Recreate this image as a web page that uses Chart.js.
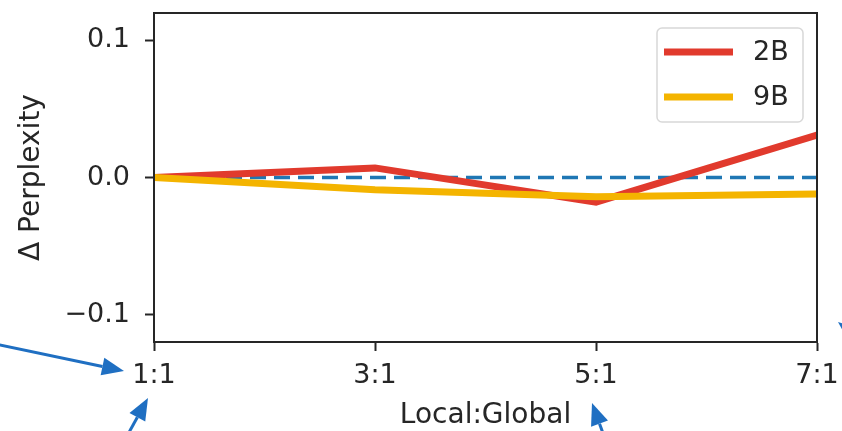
<!DOCTYPE html>
<html lang="en">
<head>
    <meta charset="UTF-8">
    <title>Delta Perplexity vs Local:Global</title>
    <style>
        body { margin: 0; padding: 0; background: #fff; }
        #wrap { width: 842px; height: 431px; position: relative; }
    </style>
</head>
<body>
    <div id="wrap"><canvas id="chart"></canvas></div>

    <script src="https://cdn.jsdelivr.net/npm/chart.js"></script>
    <script>
        // data
        const ratios = [1, 3, 5, 7];
        const ratioLabels = {1: '1:1', 3: '3:1', 5: '5:1', 7: '7:1'};
        const values2B = [0, 0.007, -0.018, 0.031];
        const values9B = [0, -0.009, -0.014, -0.012];
        const baseline = [0, 0, 0, 0];
        const yTicks = [-0.1, 0.0, 0.1];

        const FONT = 'DejaVu Sans';
        const INK = '#262626';

        const toPoints = vals => ratios.map((r, i) => ({ x: r, y: vals[i] }));

        // frame around plot area + legend + slide arrows
        const extras = {
            id: 'extras',
            afterDatasetsDraw(chart) {
                const ctx = chart.ctx;
                const a = chart.chartArea;
                ctx.save();
                ctx.strokeStyle = INK;
                ctx.lineWidth = 2;
                ctx.strokeRect(a.left, a.top, a.right - a.left, a.bottom - a.top);
                ctx.restore();
            },
            afterDraw(chart) {
                const ctx = chart.ctx;
                ctx.save();
                // legend
                const lx = 657, ly = 28, lw = 146, lh = 94;
                ctx.fillStyle = 'rgba(255,255,255,0.85)';
                ctx.strokeStyle = '#d8d8d8';
                ctx.lineWidth = 1.5;
                ctx.beginPath();
                ctx.roundRect(lx, ly, lw, lh, 5);
                ctx.fill();
                ctx.stroke();
                const items = chart.data.datasets.filter(d => d.label);
                items.forEach((d, i) => {
                    const y = 52 + i * 45;
                    ctx.strokeStyle = d.borderColor;
                    ctx.lineWidth = 7;
                    ctx.lineCap = 'butt';
                    ctx.beginPath();
                    ctx.moveTo(664, y);
                    ctx.lineTo(733, y);
                    ctx.stroke();
                    ctx.fillStyle = INK;
                    ctx.font = '27px "' + FONT + '"';
                    ctx.textBaseline = 'middle';
                    ctx.fillText(d.label, 753, y + 1);
                });

                // blue arrows from the slide
                const arrow = (x0, y0, x1, y1) => {
                    const ang = Math.atan2(y1 - y0, x1 - x0);
                    const len = 22, wid = 9;
                    const bx = x1 - len * Math.cos(ang), by = y1 - len * Math.sin(ang);
                    ctx.strokeStyle = '#1f6fc2';
                    ctx.fillStyle = '#1f6fc2';
                    ctx.lineWidth = 3;
                    ctx.beginPath();
                    ctx.moveTo(x0, y0);
                    ctx.lineTo(bx, by);
                    ctx.stroke();
                    ctx.beginPath();
                    ctx.moveTo(x1, y1);
                    ctx.lineTo(bx + wid * Math.sin(ang), by - wid * Math.cos(ang));
                    ctx.lineTo(bx - wid * Math.sin(ang), by + wid * Math.cos(ang));
                    ctx.closePath();
                    ctx.fill();
                };
                arrow(-5, 344, 124, 371);
                arrow(127, 436, 148, 398);
                arrow(604, 436, 592, 403);
                arrow(870, 348, 838, 322);
                ctx.restore();
            }
        };

        new Chart(document.getElementById('chart'), {
            type: 'line',
            data: {
                datasets: [
                    {
                        label: '2B',
                        data: toPoints(values2B),
                        borderColor: '#e13a2d',
                        borderWidth: 7,
                        pointRadius: 0,
                        tension: 0,
                        order: 2
                    },
                    {
                        label: '9B',
                        data: toPoints(values9B),
                        borderColor: '#f4b400',
                        borderWidth: 7,
                        pointRadius: 0,
                        tension: 0,
                        order: 1
                    },
                    {
                        label: '',
                        data: toPoints(baseline),
                        borderColor: '#1f77b4',
                        borderWidth: 3.5,
                        borderDash: [16, 8],
                        pointRadius: 0,
                        order: 3
                    }
                ]
            },
            options: {
                responsive: true,
                maintainAspectRatio: false,
                animation: false,
                layout: { padding: { top: 13, right: 25, left: 0, bottom: 0 } },
                plugins: { legend: { display: false }, tooltip: { enabled: false } },
                scales: {
                    x: {
                        type: 'linear',
                        min: 1,
                        max: 7,
                        afterBuildTicks: s => { s.ticks = ratios.map(v => ({ value: v })); },
                        afterFit: s => { s.height = 89; s.paddingLeft = 0; s.paddingRight = 0; },
                        ticks: {
                            callback: v => ratioLabels[v],
                            color: INK,
                            font: { family: FONT, size: 27 },
                            padding: 9,
                            maxRotation: 0
                        },
                        grid: { drawOnChartArea: false, tickLength: 9, tickColor: INK, tickWidth: 2 },
                        border: { color: INK, width: 2 },
                        title: {
                            display: true,
                            text: 'Local:Global',
                            color: INK,
                            font: { family: FONT, size: 28 },
                            padding: { top: 0, bottom: -2 }
                        }
                    },
                    y: {
                        min: -0.12,
                        max: 0.12,
                        afterBuildTicks: s => { s.ticks = yTicks.map(v => ({ value: v })); },
                        afterFit: s => { s.width = 154; s.paddingTop = 0; s.paddingBottom = 0; },
                        ticks: {
                            callback: v => v.toFixed(1).replace('-', '\u2212'),
                            color: INK,
                            font: { family: FONT, size: 27 },
                            padding: 15
                        },
                        grid: { drawOnChartArea: false, tickLength: 9, tickColor: INK, tickWidth: 2 },
                        border: { color: INK, width: 2 },
                        title: {
                            display: true,
                            text: '\u0394 Perplexity',
                            color: INK,
                            font: { family: FONT, size: 28 },
                            padding: { top: 15, bottom: 0 }
                        }
                    }
                }
            },
            plugins: [extras]
        });
    </script>
</body>
</html>
